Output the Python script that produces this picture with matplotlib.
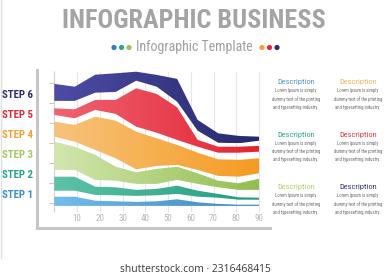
import numpy as np
import matplotlib.pyplot as plt
from matplotlib.colors import LinearSegmentedColormap

plt.rcParams['font.family'] = ['Roboto Condensed', 'Roboto', 'DejaVu Sans']

# band edges (x in chart units, y in chart units)
x = [0, 9, 18, 27, 36, 45, 54, 63, 72, 81, 90]
step6_top = [59.7, 58.3, 64.3, 65.0, 65.8, 64.2, 62.2, 41.7, 35.0, 33.7, 33.3]
step6_bot = [51.2, 51.2, 55.3, 55.7, 61.3, 58.3, 50.8, 36.3, 30.3, 30.0, 31.3]
step5_top = [47.5, 47.0, 51.7, 51.7, 57.5, 54.7, 48.0, 31.7, 28.3, 28.3, 28.7]
step5_bot = [44.2, 42.5, 46.7, 44.7, 38.3, 35.3, 31.7, 28.3, 25.3, 25.3, 25.8]
step4_top = [40.8, 39.2, 43.3, 41.3, 35.8, 32.5, 29.2, 25.3, 22.0, 21.7, 22.5]
step4_bot = [33.3, 30.8, 26.7, 22.5, 17.0, 18.7, 19.2, 16.7, 13.7, 13.3, 15.0]
step3_top = [30.8, 28.3, 24.2, 18.3, 15.5, 17.2, 18.3, 15.0, 11.3, 10.0, 12.3]
step3_bot = [16.7, 16.7, 11.7, 11.3, 9.7, 9.7, 11.7, 9.7, 8.0, 6.7, 6.7]
step2_top = [13.3, 13.3, 8.3, 8.0, 6.7, 7.2, 8.8, 6.3, 4.7, 3.0, 2.8]
step2_bot = [6.3, 6.3, 4.2, 4.0, 3.7, 4.0, 4.7, 3.3, 2.8, 1.8, 1.8]
step1_top = [3.3, 3.3, 1.3, 1.0, 0.7, 1.0, 2.0, 0.5, -0.3, -0.7, -0.7]
step1_bot = [-1.3] * 11

x_ticks = [10, 20, 30, 40, 50, 60, 70, 80, 90]
y_ticks = [0, 10, 20, 30, 40, 50, 60]

step_labels = ["STEP 6", "STEP 5", "STEP 4", "STEP 3", "STEP 2", "STEP 1"]
step_colors = ["#2b2c78", "#e3263a", "#f5a033", "#a3c963", "#22a58b", "#3a8fd0"]

desc_title = "Description"
desc_body = ["Lorem Ipsum is simply", "dummy text of the printing", "and typesetting industry."]
desc_colors = [["#5396c9", "#f5b55e"], ["#2fa98e", "#d83a45"], ["#adcf72", "#35356f"]]

# (bottom, top, left colour, right colour) for the gradient bands
layers = [
    (step1_bot, step1_top, "#74bce8", "#3a86c4"),
    (step2_bot, step2_top, "#5ec2a8", "#1f9c80"),
    (step3_bot, step3_top, "#d3e6ae", "#92be50"),
    (step4_bot, step4_top, "#f7c37c", "#f59b22"),
    (step5_bot, step5_top, "#ef6472", "#e42433"),
    (step6_bot, step6_top, "#4e4ca6", "#25296c"),
]

fig = plt.figure(figsize=(3.9, 2.8), dpi=100)
ax = fig.add_axes([37 / 390, 52 / 280, 233 / 390, 158 / 280])

ax.vlines(x_ticks, -4.5, 66, color="#e6e6e6", lw=0.8, zorder=0)
ax.vlines(0, -4.5, 66, color="#d2d2d2", lw=0.8, zorder=0)
ax.hlines(y_ticks, -2.3, 0, color="#c8c8c8", lw=0.8, zorder=0)

grad = np.linspace(0, 1, 256).reshape(1, -1)
for i, (bot, top, c0, c1) in enumerate(layers):
    poly = ax.fill_between(x, bot, top, facecolor="none", edgecolor="none")
    cmap = LinearSegmentedColormap.from_list("band%d" % i, [c0, c1])
    im = ax.imshow(grad, extent=[x[0], x[-1], min(bot), max(top)], aspect="auto",
                   cmap=cmap, interpolation="bilinear", zorder=2)
    im.set_clip_path(poly.get_paths()[0], transform=ax.transData)

for t in x_ticks:
    ax.text(t, -7.4, str(t), ha="center", va="center", fontsize=6.5, color="#b8b8b8")

ax.set_xlim(-7.6, 94.8)
ax.set_ylim(-12.35, 66.65)
ax.set_xticks([])
ax.set_yticks([])
for s in ["top", "right"]:
    ax.spines[s].set_visible(False)
for s in ["left", "bottom"]:
    ax.spines[s].set_color("#c6c6c6")
    ax.spines[s].set_linewidth(2.2)

# overlay in pixel coordinates for the titles and side texts
ov = fig.add_axes([0, 0, 1, 1])
ov.set_xlim(0, 390)
ov.set_ylim(280, 0)
ov.axis("off")

ov.plot([1, 1], [0, 258], color="#e0e0e0", lw=1)

ov.text(194, 21, "INFOGRAPHIC BUSINESS", ha="center", va="center",
        fontsize=18.8, fontweight="bold", color="#a4a4a4")
ov.text(194, 47, "Infographic Template", ha="center", va="center",
        fontsize=10, color="#a0a0a0")
ov.scatter([114, 121.5, 129], [47.5] * 3, s=14, c=["#2f7fc0", "#27a88c", "#9cc35a"], lw=0)
ov.scatter([262, 269.5, 277], [47.5] * 3, s=14, c=["#f5a033", "#e3263a", "#2b2c78"], lw=0)

for i, (lab, col) in enumerate(zip(step_labels, step_colors)):
    ov.text(33, 95 + i * 20, lab, ha="right", va="center", fontsize=7.8,
            fontweight="bold", color=col)

for r, row in enumerate(desc_colors):
    for c, col in enumerate(row):
        cx = 296 + c * 62
        ty = 82 + r * 52.5
        ov.text(cx, ty, desc_title, ha="center", va="center", fontsize=6, color=col)
        for k, line in enumerate(desc_body):
            ov.text(cx, ty + 8.5 + k * 8.3, line, ha="center", va="center",
                    fontsize=3.3, color="#6e6e6e")

ov.text(195, 269, "shutterstock.com · 2316468415", ha="center", va="center",
        fontsize=7.4, color="#3a3a3a", family=["Open Sans", "DejaVu Sans"])

fig.savefig("out.png", dpi=100)
